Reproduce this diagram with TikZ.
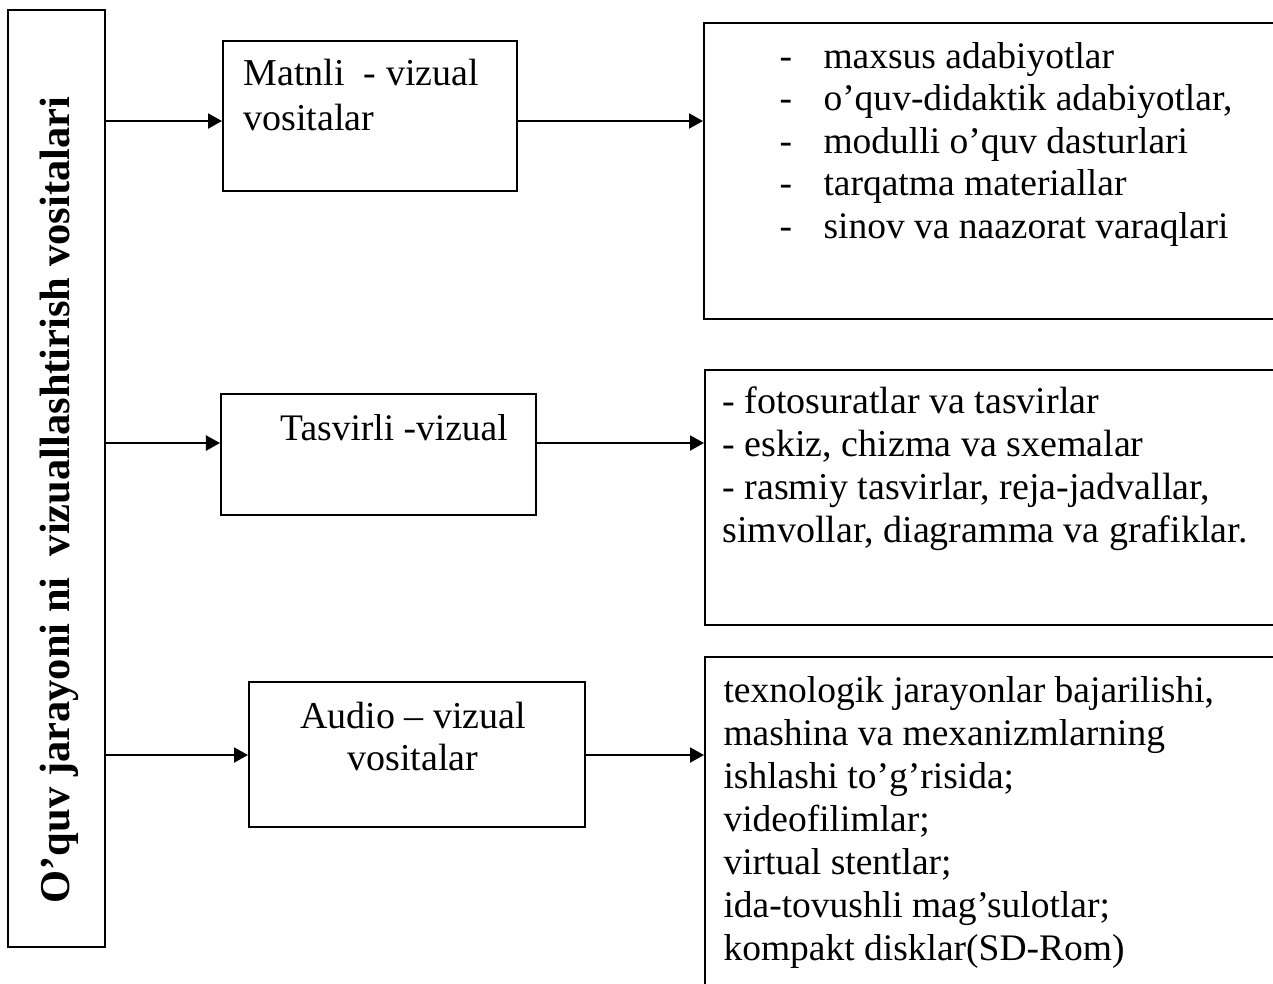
\documentclass[tikz,border=0pt]{standalone}
\usepackage{fontspec}
\setmainfont{Liberation Serif}
\usetikzlibrary{arrows.meta}

\newcommand{\fsa}{\fontsize{15pt}{17.2pt}\selectfont}
\newcommand{\fsb}{\fontsize{15.2pt}{17.2pt}\selectfont}
\newcommand{\fsc}{\fontsize{17pt}{19pt}\selectfont}

\tikzset{
  box/.style={draw, line width=0.8pt, inner sep=0pt},
  arr/.style={line width=0.8pt, -{Triangle[length=5.6pt,width=6pt]}},
  txt/.style={inner sep=0pt, anchor=base west}
}

\begin{document}
\begin{tikzpicture}[x=0.4pt,y=-0.4pt]
		\useasboundingbox (0,0) rectangle (1273,983);
		\clip (0,0) rectangle (1273,983);
		
		% Rows of the arrows
		\coordinate (r1) at (0,121);
		\coordinate (r2) at (0,443);
		\coordinate (r3) at (0,755);
		
		% Boxes
		\node[box, minimum width=38.8pt, minimum height=374.8pt] (vosita) at (56.5,478.5) {};
		\node[box, minimum width=117.6pt, minimum height=60pt] (matnli) at (370,116) {};
		\node[box, minimum width=126pt, minimum height=48.4pt] (tasvirli) at (378.5,454.5) {};
		\node[box, minimum width=134.4pt, minimum height=58pt] (audio) at (417,754.5) {};
		\node[box, minimum width=238.4pt, minimum height=118.4pt] (matnliR) at (1002,171) {};
		\node[box, minimum width=238pt, minimum height=102pt] (tasvirliR) at (1002.5,497.5) {};
		\node[box, minimum width=238pt, minimum height=141.2pt] (audioR) at (1002.5,833.5) {};
		
		% Arrows
		\draw[arr] (vosita.east |- r1) -- (matnli.west |- r1);
		\draw[arr] (vosita.east |- r2) -- (tasvirli.west |- r2);
		\draw[arr] (vosita.east |- r3) -- (audio.west |- r3);
		\draw[arr] (matnli.east |- r1) -- (matnliR.west |- r1);
		\draw[arr] (tasvirli.east |- r2) -- (tasvirliR.west |- r2);
		\draw[arr] (audio.east |- r3) -- (audioR.west |- r3);
		
		% Texts
		\node[inner sep=0pt, rotate=90, font=\fsc\bfseries] (vositaT) at (59,500) {O’quv jarayoni ni\ \ vizuallashtirish vositalari};
		\node[txt, font=\fsb] (matnli1) at (243,85) {Matnli\ \ - vizual};
		\node[txt, font=\fsb] (matnli2) at (243,130) {vositalar};
		\node[inner sep=0pt, anchor=base, font=\fsa] (tasvirli1) at (394,440) {Tasvirli -vizual};
		\node[inner sep=0pt, anchor=base, font=\fsb] (audio1) at (413,728) {Audio – vizual};
		\node[inner sep=0pt, anchor=base, font=\fsb] (audio2) at (413,770) {vositalar};
		
		\foreach \t [count=\i] in {maxsus adabiyotlar, {o’quv-didaktik adabiyotlar,}, modulli o’quv dasturlari, tarqatma materiallar, sinov va naazorat varaqlari}
		{
			\node[txt, font=\fsa] (matnliD\i) at (779,{68+42.5*(\i-1)}) {-};
			\node[txt, font=\fsa] (matnliL\i) at (823,{68+42.5*(\i-1)}) {\t};
		}
		
		\foreach \t [count=\i] in {- fotosuratlar va tasvirlar, {- eskiz, chizma va sxemalar}, {- rasmiy tasvirlar, reja-jadvallar,}, {simvollar, diagramma va grafiklar.}}
			\node[txt, font=\fsb] (tasvirliL\i) at (722,{413+43*(\i-1)}) {\t};
		
		\foreach \t [count=\i] in {{texnologik jarayonlar bajarilishi,}, mashina va mexanizmlarning, ishlashi to’g’risida;, videofilimlar;, virtual stentlar;, ida-tovushli mag’sulotlar;, kompakt disklar(SD-Rom)}
			\node[txt, font=\fsa] (audioL\i) at (723,{702+43*(\i-1)}) {\t};
		
\end{tikzpicture}
\end{document}
